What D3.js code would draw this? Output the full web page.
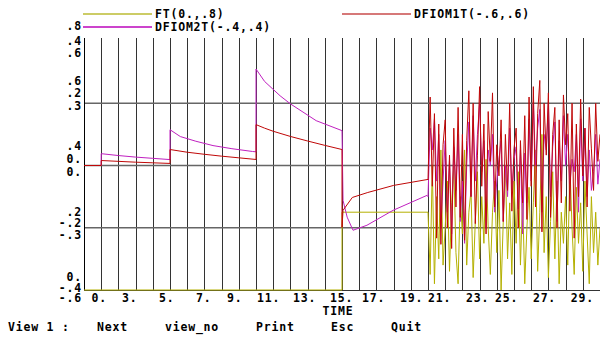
<!DOCTYPE html>
<html>
<head>
<meta charset="utf-8">
<script src="https://cdn.jsdelivr.net/npm/d3@7"></script>
<style>
  body { margin: 0; background: #fff; }
  svg { display: block; }
  text { font-family: "DejaVu Sans Mono", "Liberation Mono", monospace; font-weight: bold; font-size: 11.5px; letter-spacing: 0.8px; fill: #000; }
</style>
</head>
<body>
<div id="chart"></div>
<script>
// series names
const seriesNames = ['FT(0.,.8)', 'DFIOM1T(-.6,.6)', 'DFIOM2T(-.4,.4)']

// smooth part, [time, value]
const ftSmooth = [[0, 0], [15, 0], [15, 0.25], [20, 0.25]]
const dfiom1Smooth = [[0, 0], [1, 0], [1, 0.024], [2, 0.02], [3, 0.016], [4, 0.013], [5, 0.01],
    [5, 0.077], [6, 0.064], [7, 0.054], [8, 0.045], [9, 0.037], [10, 0.029],
    [10, 0.197], [10.5, 0.18], [11, 0.165], [12, 0.14], [13, 0.118], [14, 0.097], [15, 0.077],
    [15, -0.298], [15.06, -0.216], [15.6, -0.154], [16.5, -0.13], [18, -0.096], [20, -0.067]]
const dfiom2Smooth = [[0, 0], [1, 0], [1, 0.038], [2, 0.032], [3, 0.027], [4, 0.023], [5, 0.019],
    [5, 0.115], [5.6, 0.093], [6.5, 0.078], [7.5, 0.064], [8.6, 0.054], [9.8, 0.045], [10, 0.044],
    [10, 0.31], [10.5, 0.27], [11.4, 0.224], [12, 0.198], [13.5, 0.144], [15, 0.112],
    [15.06, -0.112], [15.3, -0.166], [15.64, -0.208], [16.45, -0.192], [17.97, -0.144], [19.94, -0.096]]

// chaotic part, t = 20 .. 30, one sample every 1/8
const chaosStart = 20
const chaosStep = 0.125
const ftChaos = [
    0.25, 0.05, 0.40, 0.02, 0.30, 0.10, 0.45, 0.08,
    0.20, 0.35, 0.06, 0.28, 0.40, 0.12, 0.02, 0.30,
    0.18, 0.45, 0.08, 0.25, 0.32, 0.04, 0.22, 0.38,
    0.10, 0.30, 0.15, 0.42, 0.20, 0.05, 0.25, 0.35,
    0.12, 0.32, 0.00, 0.22, 0.40, 0.10, 0.28, 0.05,
    0.35, 0.15, 0.38, 0.08, 0.30, 0.02, 0.20, 0.33,
    0.10, 0.28, 0.45, 0.06, 0.25, 0.50, 0.12, 0.30,
    0.04, 0.22, 0.38, 0.10, 0.35, 0.02, 0.25, 0.15,
    0.30, 0.08, 0.40, 0.20, 0.05, 0.33, 0.15, 0.28,
    0.06, 0.35, 0.18, 0.02, 0.30, 0.12, 0.25, 0.08,
    0.20]
const dfiom1Chaos = [
    -0.07, 0.33, -0.10, 0.25, -0.35, 0.20, -0.38, 0.10,
    0.22, -0.30, 0.05, -0.40, 0.18, -0.20, 0.28, -0.25,
    0.15, -0.36, 0.12, 0.36, -0.15, 0.30, -0.28, 0.05,
    0.38, -0.10, 0.20, -0.33, 0.26, 0.02, 0.35, -0.20,
    0.10, -0.05, 0.22, -0.27, 0.15, -0.12, 0.30, -0.22,
    0.08, 0.18, -0.30, 0.12, -0.18, 0.24, -0.26, 0.33,
    -0.10, 0.38, -0.20, 0.25, 0.41, -0.32, 0.30, 0.05,
    0.35, -0.25, 0.15, 0.28, -0.30, 0.22, -0.18, 0.34,
    0.10, 0.25, -0.22, 0.30, -0.35, 0.20, -0.15, 0.32,
    -0.05, 0.18, -0.20, 0.28, 0.08, -0.12, 0.30, 0.02,
    0.15]
const dfiom2Chaos = [
    -0.10, 0.12, 0.05, 0.15, -0.05, 0.10, -0.20, -0.05,
    0.08, -0.15, 0.02, -0.22, 0.06, -0.08, 0.10, -0.18,
    -0.05, -0.25, 0.00, 0.14, -0.10, 0.16, -0.05, 0.10,
    0.20, -0.02, 0.08, -0.20, 0.05, 0.00, 0.10, -0.15,
    -0.05, 0.02, 0.08, -0.18, 0.00, -0.10, 0.12, -0.08,
    0.02, 0.06, -0.14, 0.05, -0.22, 0.04, -0.12, 0.15,
    -0.05, 0.20, 0.00, 0.12, 0.18, -0.15, 0.10, 0.05,
    0.20, -0.10, 0.06, 0.14, -0.18, 0.08, -0.05, 0.16,
    0.00, 0.10, -0.06, 0.02, -0.02, 0.10, -0.15, 0.15,
    -0.05, 0.12, -0.10, 0.05, -0.08, -0.02, 0.10, -0.06,
    0.02]

// tick labels
const xTickLabels = ['0.', '3.', '5.', '7.', '9.', '11.', '13.', '15.', '17.', '19.', '21.', '23.', '25.', '27.', '29.']
const xTickTimes = [0.44, 2.21, 4.36, 6.51, 8.31, 10.06, 12.15, 14.3, 16.16, 18.37, 20.0, 22.21, 23.9, 26.1, 28.3]
const yTickLabels = ['.8', '.4', '.6', '.6', '.2', '.3', '.4', '0.', '0.', '.2', '-.2', '-.3', '0.', '-.4', '-.6']
const yTickLevels = [1.06, 1.0, 0.952, 0.84, 0.792, 0.74, 0.58, 0.528, 0.476, 0.312, 0.268, 0.22, 0.052, 0.008, -0.032]
const menuItems = ['View 1 :', 'Next', 'view_no', 'Print', 'Esc', 'Quit']

const width = 600, height = 338
const plotLeft = 84, plotRight = 600, plotTop = 41, plotBottom = 290

const svg = d3.select('#chart').append('svg')
    .attr('width', width)
    .attr('height', height)

const x = d3.scaleLinear().domain([0, 30]).range([plotLeft, plotRight])
const level = d3.scaleLinear().domain([0, 1]).range([plotBottom, plotTop])
const yFt = d3.scaleLinear().domain([0, 0.8]).range([plotBottom, plotTop])
const yD1 = d3.scaleLinear().domain([-0.6, 0.6]).range([plotBottom, plotTop])
const yD2 = d3.scaleLinear().domain([-0.4, 0.4]).range([plotBottom, plotTop])

//grid
const grid = svg.append('g')
grid.selectAll('line.v')
    .data(d3.range(1, 30))
    .join('line')
    .attr('x1', d => Math.round(x(d)) + 0.5)
    .attr('x2', d => Math.round(x(d)) + 0.5)
    .attr('y1', plotTop - 3)
    .attr('y2', plotBottom)
    .attr('stroke', '#333')
    .attr('stroke-width', 1)
grid.selectAll('line.h')
    .data([0.25, 0.5, 0.75])
    .join('line')
    .attr('x1', plotLeft)
    .attr('x2', plotRight)
    .attr('y1', d => level(d))
    .attr('y2', d => level(d))
    .attr('stroke', '#666')
    .attr('stroke-width', 1.6)
grid.append('line')
    .attr('x1', plotLeft + 0.5).attr('x2', plotLeft + 0.5)
    .attr('y1', plotTop - 3).attr('y2', plotBottom)
    .attr('stroke', '#000')
grid.append('line')
    .attr('x1', plotLeft).attr('x2', plotRight)
    .attr('y1', plotBottom + 0.5).attr('y2', plotBottom + 0.5)
    .attr('stroke', '#333')

//series
const withChaos = (smooth, chaos) => smooth.concat(chaos.map((v, i) => [chaosStart + i * chaosStep, v]))
const series = [
    {data: withChaos(ftSmooth, ftChaos), y: yFt, color: '#b4b000'},
    {data: withChaos(dfiom2Smooth, dfiom2Chaos), y: yD2, color: '#c020c0'},
    {data: withChaos(dfiom1Smooth, dfiom1Chaos), y: yD1, color: '#c00808'}
]
series.forEach(s => {
    svg.append('path')
        .datum(s.data)
        .attr('fill', 'none')
        .attr('stroke', s.color)
        .attr('stroke-width', 1)
        .attr('d', d3.line().x(d => x(d[0])).y(d => s.y(d[1])))
})

//legend
const legend = [
    {name: seriesNames[0], color: '#cccc66', lx: 83, ly: 14},
    {name: seriesNames[2], color: '#cc44cc', lx: 83, ly: 27},
    {name: seriesNames[1], color: '#d67878', lx: 342, ly: 14}
]
const lg = svg.append('g')
lg.selectAll('line')
    .data(legend)
    .join('line')
    .attr('x1', d => d.lx)
    .attr('x2', d => d.lx + 69)
    .attr('y1', d => d.ly)
    .attr('y2', d => d.ly)
    .attr('stroke', d => d.color)
    .attr('stroke-width', 2)
lg.selectAll('text')
    .data(legend)
    .join('text')
    .attr('x', d => d.lx + 72)
    .attr('y', d => d.ly)
    .attr('dy', '0.35em')
    .text(d => d.name)

//y labels
svg.append('g')
    .selectAll('text')
    .data(yTickLabels)
    .join('text')
    .attr('x', 82)
    .attr('y', (_, i) => level(yTickLevels[i]))
    .attr('dy', '0.35em')
    .attr('text-anchor', 'end')
    .text(d => d)

//x labels
svg.append('g')
    .selectAll('text')
    .data(xTickLabels)
    .join('text')
    .attr('x', (_, i) => x(xTickTimes[i]))
    .attr('y', 298)
    .attr('dy', '0.35em')
    .text(d => d)

svg.append('text')
    .attr('x', 338)
    .attr('y', 311)
    .attr('dy', '0.35em')
    .attr('text-anchor', 'middle')
    .text('TIME')

//menu
const menuX = [8, 97, 165, 256, 331, 391]
svg.append('g')
    .selectAll('text')
    .data(menuItems)
    .join('text')
    .attr('x', (_, i) => menuX[i])
    .attr('y', 327)
    .attr('dy', '0.35em')
    .text(d => d)
</script>
</body>
</html>
